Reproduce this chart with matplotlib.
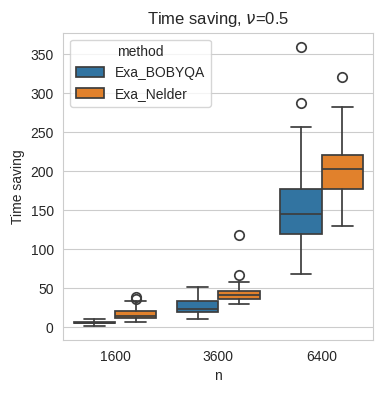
import numpy as np
import matplotlib
matplotlib.use("Agg")
import matplotlib.pyplot as plt
import matplotlib.patches as mpatches
import seaborn as sns

# box statistics
n_values = ["1600", "3600", "6400"]
methods = ["Exa_BOBYQA", "Exa_Nelder"]

bobyqa_whislo = [1.5, 10.3, 68.0]
bobyqa_q1 = [4.8, 19.2, 119.2]
bobyqa_med = [5.8, 23.5, 144.9]
bobyqa_q3 = [7.2, 33.3, 176.9]
bobyqa_whishi = [10.3, 51.7, 256.8]
bobyqa_fliers = [[], [], [287.0, 360.0]]

nelder_whislo = [6.6, 30.0, 129.5]
nelder_q1 = [11.2, 36.3, 177.4]
nelder_med = [14.0, 41.5, 202.6]
nelder_q3 = [20.7, 46.2, 221.4]
nelder_whishi = [33.5, 57.7, 282.9]
nelder_fliers = [[36.0, 38.5], [66.7, 118.0], [320.5]]

colors = ["#3274a1", "#e1812c"]
line_col = "#3d3d3d"

sns.set_style("whitegrid")
plt.rcParams['font.family'] = ['Liberation Sans', 'DejaVu Sans']

fig = plt.figure(figsize=(3.82, 3.93), dpi=100)
ax = fig.add_axes([0.166, 0.135, 0.811, 0.782])


def make_stats(lo, q1, med, q3, hi, fl):
    out = []
    for i in range(len(med)):
        out.append(dict(whislo=lo[i], q1=q1[i], med=med[i], q3=q3[i],
                        whishi=hi[i], fliers=np.array(fl[i])))
    return out


series = [
    make_stats(bobyqa_whislo, bobyqa_q1, bobyqa_med, bobyqa_q3, bobyqa_whishi, bobyqa_fliers),
    make_stats(nelder_whislo, nelder_q1, nelder_med, nelder_q3, nelder_whishi, nelder_fliers),
]
offsets = [-0.2, 0.2]
base = np.arange(len(n_values))

for stats, off, col in zip(series, offsets, colors):
    ax.bxp(stats, positions=base + off, widths=0.4, capwidths=0.2,
           patch_artist=True, showfliers=True,
           boxprops=dict(facecolor=col, edgecolor=line_col, linewidth=1.25),
           medianprops=dict(color=line_col, linewidth=1.25),
           whiskerprops=dict(color=line_col, linewidth=1.25),
           capprops=dict(color=line_col, linewidth=1.25),
           flierprops=dict(marker="o", markersize=6.8, markerfacecolor="none",
                           markeredgecolor=line_col, markeredgewidth=1.25))

ax.set_xticks(base)
ax.set_xticklabels(n_values)
ax.set_xlim(-0.5, len(n_values) - 0.5)
ax.margins(y=0.05)
ax.autoscale(axis="y")
ax.set_yticks(np.arange(0, 351, 50))
ax.xaxis.grid(False)
ax.set_xlabel("n")
ax.set_ylabel("Time saving")
ax.set_title(r"Time saving, $\nu$=0.5")

handles = [mpatches.Patch(facecolor=c, edgecolor=line_col, linewidth=1.25, label=m)
           for c, m in zip(colors, methods)]
ax.legend(handles=handles, title="method", loc="upper left")

fig.savefig("out.png", dpi=100)
